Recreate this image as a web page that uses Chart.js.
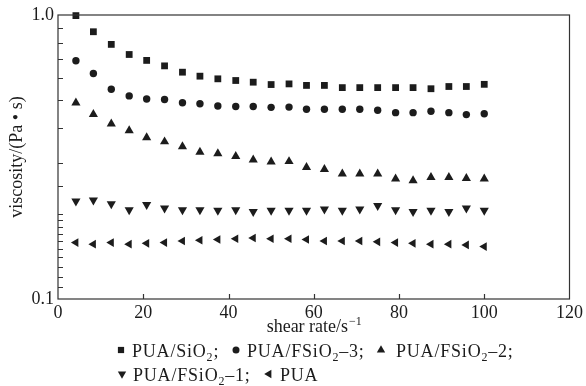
<!DOCTYPE html>
<html>
<head>
<meta charset="utf-8">
<script src="https://cdn.jsdelivr.net/npm/chart.js@4/dist/chart.umd.min.js"></script>
<style>
  html, body { margin: 0; padding: 0; background: #fff; }
  #wrap { width: 586px; height: 386px; position: relative; }
</style>
</head>
<body>
<div id="wrap"><canvas id="viscChart"></canvas></div>
<script>
// shear rate (s^-1)
const shearRate = [4.2, 8.3, 12.5, 16.7, 20.8, 25.0, 29.2, 33.3, 37.5, 41.7, 45.8, 50.0,
                   54.2, 58.3, 62.5, 66.7, 70.8, 75.0, 79.2, 83.3, 87.5, 91.7, 95.8, 100.0];

// viscosity (Pa·s) per sample
const puaSiO2 = [0.995, 0.873, 0.788, 0.726, 0.692, 0.662, 0.629, 0.609, 0.596, 0.588, 0.580, 0.569,
                 0.572, 0.565, 0.565, 0.555, 0.555, 0.555, 0.555, 0.555, 0.550, 0.560, 0.560, 0.570];
const puaFSiO2_3 = [0.690, 0.622, 0.548, 0.519, 0.506, 0.504, 0.491, 0.487, 0.478, 0.476, 0.476, 0.473,
                    0.474, 0.466, 0.466, 0.466, 0.466, 0.462, 0.453, 0.453, 0.458, 0.453, 0.446, 0.449];
const puaFSiO2_2 = [0.491, 0.447, 0.414, 0.392, 0.370, 0.358, 0.344, 0.329, 0.325, 0.318, 0.309, 0.304,
                    0.305, 0.291, 0.286, 0.276, 0.276, 0.276, 0.265, 0.261, 0.268, 0.268, 0.266, 0.265];
const puaFSiO2_1 = [0.221, 0.223, 0.216, 0.206, 0.215, 0.209, 0.206, 0.206, 0.205, 0.206, 0.203, 0.205,
                    0.205, 0.205, 0.207, 0.205, 0.207, 0.213, 0.206, 0.203, 0.205, 0.203, 0.209, 0.205];
const puaPlain = [0.158, 0.156, 0.158, 0.156, 0.157, 0.158, 0.160, 0.161, 0.162, 0.163, 0.164, 0.163,
                  0.163, 0.162, 0.160, 0.160, 0.160, 0.159, 0.158, 0.157, 0.156, 0.156, 0.155, 0.153];

const seriesLabels = ['PUA/SiO₂', 'PUA/FSiO₂–3', 'PUA/FSiO₂–2', 'PUA/FSiO₂–1', 'PUA'];
const xTickLabels = [0, 20, 40, 60, 80, 100, 120];
const yTickLabels = { 0.1: '0.1', 1: '1.0' };
const xTitle = 'shear rate/s';
const xTitleSup = '−1';
const yTitle = 'viscosity/(Pa • s)';

const INK = '#1c1c1c';
const FONT = '"Liberation Serif", "Times New Roman", serif';

function pts(ys) {
    return shearRate.map((x, i) => ({ x: x, y: ys[i] }));
}

function mkSet(label, ys, style, radius, rotation) {
    return {
        label: label,
        data: pts(ys),
        showLine: false,
        pointStyle: style,
        pointRadius: radius,
        pointRotation: rotation || 0,
        pointBackgroundColor: INK,
        pointBorderWidth: 0,
        pointBorderColor: INK,
        clip: false
    };
}

// legend layout: rows of dataset indices, marker centre x per item
const legendRows = [[0, 1, 2], [3, 4]];
const legendMarkX = [[121, 236, 381], [122, 269]];
const legendRowY = [351, 375];

// frame, inward ticks, x title with superscript, legend with subscripts
const decorPlugin = {
    id: 'decor',
    afterDraw(chart) {
        const ctx = chart.ctx;
        const a = chart.chartArea;
        const xs = chart.scales.x;
        const ys = chart.scales.y;
        ctx.save();

        // box
        ctx.strokeStyle = '#333';
        ctx.lineWidth = 1.2;
        ctx.strokeRect(a.left, a.top, a.right - a.left, a.bottom - a.top);

        // inward ticks
        ctx.beginPath();
        xs.ticks.forEach(t => {
            if (t.value <= xs.min || t.value >= xs.max) return;
            const px = Math.round(xs.getPixelForValue(t.value)) + 0.5;
            ctx.moveTo(px, a.bottom);
            ctx.lineTo(px, a.bottom - 5);
        });
        ys.ticks.forEach(t => {
            if (t.value <= ys.min * 1.001 || t.value >= ys.max * 0.999) return;
            const py = Math.round(ys.getPixelForValue(t.value)) + 0.5;
            ctx.moveTo(a.left, py);
            ctx.lineTo(a.left + 5, py);
        });
        ctx.stroke();

        // x title
        ctx.fillStyle = INK;
        ctx.textBaseline = 'alphabetic';
        ctx.font = '18px ' + FONT;
        const w1 = ctx.measureText(xTitle).width;
        ctx.font = '12px ' + FONT;
        const w2 = ctx.measureText(xTitleSup).width;
        let tx = (a.left + a.right) / 2 - (w1 + w2) / 2;
        const ty = 332;
        ctx.font = '18px ' + FONT;
        ctx.textAlign = 'left';
        ctx.fillText(xTitle, tx, ty);
        ctx.font = '12px ' + FONT;
        ctx.fillText(xTitleSup, tx + w1 + 1, ty - 7);

        // legend
        const spacing = 0.8;
        legendRows.forEach((row, r) => {
            const y = legendRowY[r];
            row.forEach((idx, k) => {
                const ds = chart.data.datasets[idx];
                const x = legendMarkX[r][k];
                Chart.helpers.drawPoint(ctx, {
                    pointStyle: ds.pointStyle,
                    rotation: ds.pointRotation,
                    radius: ds.pointStyle === 'rect' ? 4.4 : (ds.pointStyle === 'circle' ? 3.5 : 4.8),
                    borderWidth: 0
                }, x, y - 1);
                ctx.fillStyle = INK;
                let cx = x + (ds.pointStyle === 'triangle' && !ds.pointRotation ? 15 : 11);
                const last = (r === legendRows.length - 1 && k === row.length - 1);
                const text = ds.label + (last ? '' : ';');
                for (const ch of text) {
                    if (ch === '₂') {
                        ctx.font = '12px ' + FONT;
                        ctx.fillText('2', cx, y + 10);
                        cx += ctx.measureText('2').width + spacing;
                    } else {
                        ctx.font = '18px ' + FONT;
                        ctx.fillText(ch, cx, y + 6);
                        cx += ctx.measureText(ch).width + spacing;
                    }
                }
            });
        });
        ctx.restore();
    }
};

new Chart(document.getElementById('viscChart'), {
    type: 'scatter',
    data: {
        datasets: [
            mkSet(seriesLabels[0], puaSiO2, 'rect', 4.8),
            mkSet(seriesLabels[1], puaFSiO2_3, 'circle', 3.7),
            mkSet(seriesLabels[2], puaFSiO2_2, 'triangle', 5.3),
            mkSet(seriesLabels[3], puaFSiO2_1, 'triangle', 5.3, 180),
            mkSet(seriesLabels[4], puaPlain, 'triangle', 5.0, 270)
        ]
    },
    options: {
        responsive: true,
        maintainAspectRatio: false,
        animation: false,
        layout: { padding: { top: 15, right: 11, left: 0, bottom: 0 } },
        plugins: {
            legend: { display: false },
            tooltip: { enabled: false }
        },
        scales: {
            x: {
                type: 'linear',
                min: 0,
                max: 120,
                afterBuildTicks: s => { s.ticks = xTickLabels.map(v => ({ value: v })); },
                afterFit: s => { s.height = 87; },
                grid: { display: false, drawTicks: false },
                border: { display: false },
                ticks: {
                    padding: 3,
                    color: INK,
                    font: { family: FONT, size: 18 },
                    maxRotation: 0
                }
            },
            y: {
                type: 'logarithmic',
                min: 0.1,
                max: 1,
                afterFit: s => { s.width = 58; },
                grid: { display: false, drawTicks: false },
                border: { display: false },
                ticks: {
                    padding: 4,
                    color: INK,
                    font: { family: FONT, size: 18 },
                    autoSkip: false,
                    callback: function(v) {
                        if (Math.abs(v - 0.1) < 1e-6) return yTickLabels[0.1];
                        if (Math.abs(v - 1) < 1e-6) return yTickLabels[1];
                        return '';
                    }
                },
                title: {
                    display: true,
                    text: yTitle,
                    color: INK,
                    font: { family: FONT, size: 18 },
                    padding: { top: 6, bottom: 0 }
                }
            }
        }
    },
    plugins: [decorPlugin]
});
</script>
</body>
</html>
